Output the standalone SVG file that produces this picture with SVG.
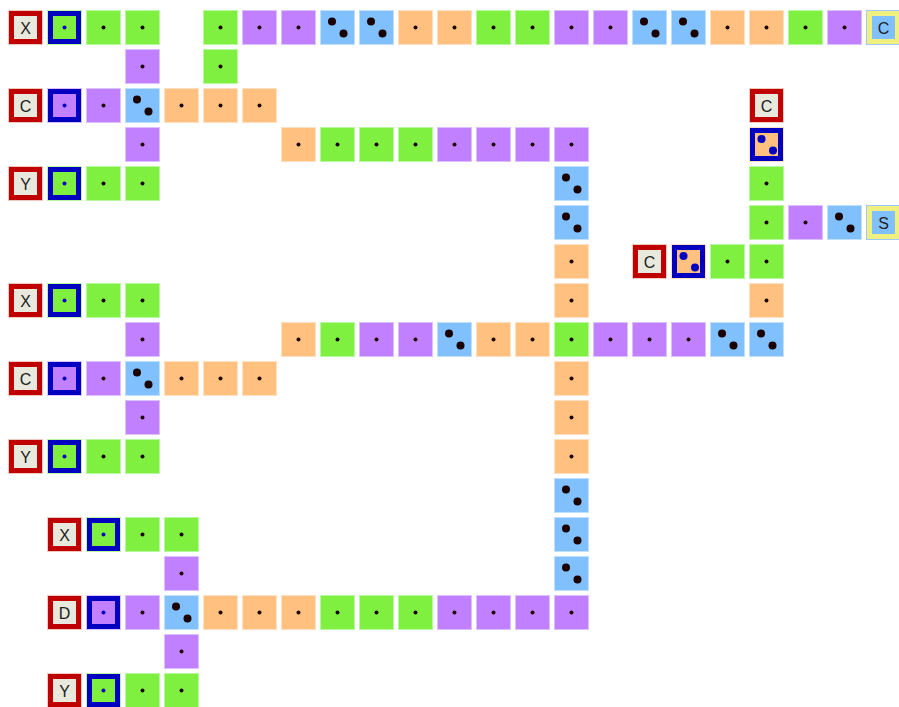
<svg xmlns="http://www.w3.org/2000/svg" xmlns:xlink="http://www.w3.org/1999/xlink" width="899" height="707" viewBox="0 0 899 707">
<style>
.g{fill:#80f040;stroke:#b8f8a0;stroke-width:1}
.p{fill:#c080ff;stroke:#dcc0ff;stroke-width:1}
.b{fill:#80c0ff;stroke:#c0e0ff;stroke-width:1}
.o{fill:#ffc080;stroke:#ffe0c0;stroke-width:1}
.d{fill:#1a0000}
.bd{fill:#0000c0}
.t{font-family:"Liberation Sans",Arial,sans-serif;font-size:16px;fill:#202020;text-anchor:middle}
</style>
<defs>
<g id="G"><rect class="g" x="0.5" y="0.5" width="34" height="34"/><circle class="d" cx="17.5" cy="17.5" r="2"/></g>
<g id="P"><rect class="p" x="0.5" y="0.5" width="34" height="34"/><circle class="d" cx="17.5" cy="17.5" r="2"/></g>
<g id="O"><rect class="o" x="0.5" y="0.5" width="34" height="34"/><circle class="d" cx="17.5" cy="17.5" r="2"/></g>
<g id="B"><rect class="b" x="0.5" y="0.5" width="34" height="34"/><circle class="d" cx="12" cy="11.5" r="4"/><circle class="d" cx="23.5" cy="23.5" r="4"/></g>
<g id="SG"><rect x="0.5" y="0.5" width="34" height="34" fill="#0000c0" stroke="#b8f8a0"/><rect x="6" y="6" width="23" height="23" fill="#80f040"/><circle class="bd" cx="17.5" cy="17.5" r="2"/></g>
<g id="SP"><rect x="0.5" y="0.5" width="34" height="34" fill="#0000c0" stroke="#dcc0ff"/><rect x="6" y="6" width="23" height="23" fill="#c080ff"/><circle class="bd" cx="17.5" cy="17.5" r="2"/></g>
<g id="SO"><rect x="0.5" y="0.5" width="34" height="34" fill="#0000c0" stroke="#ffe0c0"/><rect x="6" y="6" width="23" height="23" fill="#ffc080"/><circle class="bd" cx="12.5" cy="12" r="4"/><circle class="bd" cx="24" cy="23.5" r="4"/></g>
<g id="R"><rect x="0.5" y="0.5" width="34" height="34" fill="#c00000" stroke="#f0c8c0"/><rect x="6" y="6" width="23" height="23" fill="#e8e8dc"/></g>
<g id="Yw"><rect x="0.5" y="0.5" width="34" height="34" fill="#f0f080" stroke="#a0c8ff"/><rect x="6" y="6" width="23" height="23" fill="#80c0ff"/></g>
</defs>
<g id="connectors"/>
<!-- row 0 -->
<g id="r0c0"><use href="#R" x="8" y="10"/><text class="t" x="25.5" y="33.5">X</text></g>
<g id="r0c1"><use href="#SG" x="47" y="10"/></g>
<g id="r0c2"><use href="#G" x="86" y="10"/></g>
<g id="r0c3"><use href="#G" x="125" y="10"/></g>
<g id="r0c5"><use href="#G" x="203" y="10"/></g>
<g id="r0c6"><use href="#P" x="242" y="10"/></g>
<g id="r0c7"><use href="#P" x="281" y="10"/></g>
<g id="r0c8"><use href="#B" x="320" y="10"/></g>
<g id="r0c9"><use href="#B" x="359" y="10"/></g>
<g id="r0c10"><use href="#O" x="398" y="10"/></g>
<g id="r0c11"><use href="#O" x="437" y="10"/></g>
<g id="r0c12"><use href="#G" x="476" y="10"/></g>
<g id="r0c13"><use href="#G" x="515" y="10"/></g>
<g id="r0c14"><use href="#P" x="554" y="10"/></g>
<g id="r0c15"><use href="#P" x="593" y="10"/></g>
<g id="r0c16"><use href="#B" x="632" y="10"/></g>
<g id="r0c17"><use href="#B" x="671" y="10"/></g>
<g id="r0c18"><use href="#O" x="710" y="10"/></g>
<g id="r0c19"><use href="#O" x="749" y="10"/></g>
<g id="r0c20"><use href="#G" x="788" y="10"/></g>
<g id="r0c21"><use href="#P" x="827" y="10"/></g>
<g id="r0c22"><use href="#Yw" x="866" y="10"/><text class="t" x="883.5" y="33.5">C</text></g>
<!-- row 1 -->
<g id="r1c3"><use href="#P" x="125" y="49"/></g>
<g id="r1c5"><use href="#G" x="203" y="49"/></g>
<!-- row 2 -->
<g id="r2c0"><use href="#R" x="8" y="88"/><text class="t" x="25.5" y="111.5">C</text></g>
<g id="r2c1"><use href="#SP" x="47" y="88"/></g>
<g id="r2c2"><use href="#P" x="86" y="88"/></g>
<g id="r2c3"><use href="#B" x="125" y="88"/></g>
<g id="r2c4"><use href="#O" x="164" y="88"/></g>
<g id="r2c5"><use href="#O" x="203" y="88"/></g>
<g id="r2c6"><use href="#O" x="242" y="88"/></g>
<g id="r2c19"><use href="#R" x="749" y="88"/><text class="t" x="766.5" y="111.5">C</text></g>
<!-- row 3 -->
<g id="r3c3"><use href="#P" x="125" y="127"/></g>
<g id="r3c7"><use href="#O" x="281" y="127"/></g>
<g id="r3c8"><use href="#G" x="320" y="127"/></g>
<g id="r3c9"><use href="#G" x="359" y="127"/></g>
<g id="r3c10"><use href="#G" x="398" y="127"/></g>
<g id="r3c11"><use href="#P" x="437" y="127"/></g>
<g id="r3c12"><use href="#P" x="476" y="127"/></g>
<g id="r3c13"><use href="#P" x="515" y="127"/></g>
<g id="r3c14"><use href="#P" x="554" y="127"/></g>
<g id="r3c19"><use href="#SO" x="749" y="127"/></g>
<!-- row 4 -->
<g id="r4c0"><use href="#R" x="8" y="166"/><text class="t" x="25.5" y="189.5">Y</text></g>
<g id="r4c1"><use href="#SG" x="47" y="166"/></g>
<g id="r4c2"><use href="#G" x="86" y="166"/></g>
<g id="r4c3"><use href="#G" x="125" y="166"/></g>
<g id="r4c14"><use href="#B" x="554" y="166"/></g>
<g id="r4c19"><use href="#G" x="749" y="166"/></g>
<!-- row 5 -->
<g id="r5c14"><use href="#B" x="554" y="205"/></g>
<g id="r5c19"><use href="#G" x="749" y="205"/></g>
<g id="r5c20"><use href="#P" x="788" y="205"/></g>
<g id="r5c21"><use href="#B" x="827" y="205"/></g>
<g id="r5c22"><use href="#Yw" x="866" y="205"/><text class="t" x="883.5" y="228.5">S</text></g>
<!-- row 6 -->
<g id="r6c14"><use href="#O" x="554" y="244"/></g>
<g id="r6c16"><use href="#R" x="632" y="244"/><text class="t" x="649.5" y="267.5">C</text></g>
<g id="r6c17"><use href="#SO" x="671" y="244"/></g>
<g id="r6c18"><use href="#G" x="710" y="244"/></g>
<g id="r6c19"><use href="#G" x="749" y="244"/></g>
<!-- row 7 -->
<g id="r7c0"><use href="#R" x="8" y="283"/><text class="t" x="25.5" y="306.5">X</text></g>
<g id="r7c1"><use href="#SG" x="47" y="283"/></g>
<g id="r7c2"><use href="#G" x="86" y="283"/></g>
<g id="r7c3"><use href="#G" x="125" y="283"/></g>
<g id="r7c14"><use href="#O" x="554" y="283"/></g>
<g id="r7c19"><use href="#O" x="749" y="283"/></g>
<!-- row 8 -->
<g id="r8c3"><use href="#P" x="125" y="322"/></g>
<g id="r8c7"><use href="#O" x="281" y="322"/></g>
<g id="r8c8"><use href="#G" x="320" y="322"/></g>
<g id="r8c9"><use href="#P" x="359" y="322"/></g>
<g id="r8c10"><use href="#P" x="398" y="322"/></g>
<g id="r8c11"><use href="#B" x="437" y="322"/></g>
<g id="r8c12"><use href="#O" x="476" y="322"/></g>
<g id="r8c13"><use href="#O" x="515" y="322"/></g>
<g id="r8c14"><use href="#G" x="554" y="322"/></g>
<g id="r8c15"><use href="#P" x="593" y="322"/></g>
<g id="r8c16"><use href="#P" x="632" y="322"/></g>
<g id="r8c17"><use href="#P" x="671" y="322"/></g>
<g id="r8c18"><use href="#B" x="710" y="322"/></g>
<g id="r8c19"><use href="#B" x="749" y="322"/></g>
<!-- row 9 -->
<g id="r9c0"><use href="#R" x="8" y="361"/><text class="t" x="25.5" y="384.5">C</text></g>
<g id="r9c1"><use href="#SP" x="47" y="361"/></g>
<g id="r9c2"><use href="#P" x="86" y="361"/></g>
<g id="r9c3"><use href="#B" x="125" y="361"/></g>
<g id="r9c4"><use href="#O" x="164" y="361"/></g>
<g id="r9c5"><use href="#O" x="203" y="361"/></g>
<g id="r9c6"><use href="#O" x="242" y="361"/></g>
<g id="r9c14"><use href="#O" x="554" y="361"/></g>
<!-- row 10 -->
<g id="r10c3"><use href="#P" x="125" y="400"/></g>
<g id="r10c14"><use href="#O" x="554" y="400"/></g>
<!-- row 11 -->
<g id="r11c0"><use href="#R" x="8" y="439"/><text class="t" x="25.5" y="462.5">Y</text></g>
<g id="r11c1"><use href="#SG" x="47" y="439"/></g>
<g id="r11c2"><use href="#G" x="86" y="439"/></g>
<g id="r11c3"><use href="#G" x="125" y="439"/></g>
<g id="r11c14"><use href="#O" x="554" y="439"/></g>
<!-- row 12 -->
<g id="r12c14"><use href="#B" x="554" y="478"/></g>
<!-- row 13 -->
<g id="r13c1"><use href="#R" x="47" y="517"/><text class="t" x="64.5" y="540.5">X</text></g>
<g id="r13c2"><use href="#SG" x="86" y="517"/></g>
<g id="r13c3"><use href="#G" x="125" y="517"/></g>
<g id="r13c4"><use href="#G" x="164" y="517"/></g>
<g id="r13c14"><use href="#B" x="554" y="517"/></g>
<!-- row 14 -->
<g id="r14c4"><use href="#P" x="164" y="556"/></g>
<g id="r14c14"><use href="#B" x="554" y="556"/></g>
<!-- row 15 -->
<g id="r15c1"><use href="#R" x="47" y="595"/><text class="t" x="64.5" y="618.5">D</text></g>
<g id="r15c2"><use href="#SP" x="86" y="595"/></g>
<g id="r15c3"><use href="#P" x="125" y="595"/></g>
<g id="r15c4"><use href="#B" x="164" y="595"/></g>
<g id="r15c5"><use href="#O" x="203" y="595"/></g>
<g id="r15c6"><use href="#O" x="242" y="595"/></g>
<g id="r15c7"><use href="#O" x="281" y="595"/></g>
<g id="r15c8"><use href="#G" x="320" y="595"/></g>
<g id="r15c9"><use href="#G" x="359" y="595"/></g>
<g id="r15c10"><use href="#G" x="398" y="595"/></g>
<g id="r15c11"><use href="#P" x="437" y="595"/></g>
<g id="r15c12"><use href="#P" x="476" y="595"/></g>
<g id="r15c13"><use href="#P" x="515" y="595"/></g>
<g id="r15c14"><use href="#P" x="554" y="595"/></g>
<!-- row 16 -->
<g id="r16c4"><use href="#P" x="164" y="634"/></g>
<!-- row 17 -->
<g id="r17c1"><use href="#R" x="47" y="673"/><text class="t" x="64.5" y="696.5">Y</text></g>
<g id="r17c2"><use href="#SG" x="86" y="673"/></g>
<g id="r17c3"><use href="#G" x="125" y="673"/></g>
<g id="r17c4"><use href="#G" x="164" y="673"/></g>
</svg>
